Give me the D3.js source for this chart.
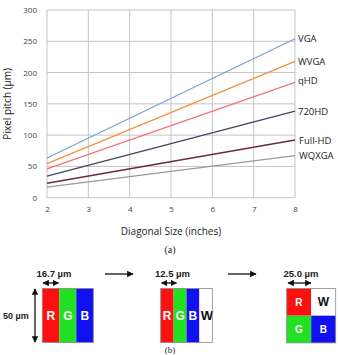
<!DOCTYPE html>
<html><head><meta charset="utf-8">
<script src="https://cdn.jsdelivr.net/npm/d3@7"></script>
<style>
html,body{margin:0;padding:0;background:#fff;}
svg{display:block;}
</style></head>
<body>
<svg id="c" width="341" height="355"></svg>
<script>
// ---- data ----
const sizes = [2, 8];                      // diagonal size (inches)
const seriesNames = ["VGA","WVGA","qHD","720HD","Full-HD","WQXGA"];
const vga    = [63.5, 254];
const wvga   = [54.4, 217.8];
const qhd    = [46.1, 184.5];
const hd720  = [34.6, 138.4];
const fullhd = [23.1, 92.2];
const wqxga  = [16.8, 67.3];
const xTicks = [2,3,4,5,6,7,8];
const yTicks = [0,50,100,150,200,250,300];
const seriesColors = ["#7aa3d6","#f0923e","#f2727a","#44445e","#6e2a3c","#9a9a9a"];
const labelY = [254, 217.8, 188, 137, 92, 67];   // label anchor values

// panel (b) data
const pitchLabels = ["16.7 \u00b5m","12.5 \u00b5m","25.0 \u00b5m"];
const stripeRGB  = ["R","G","B"];
const stripeRGBW = ["R","G","B","W"];
const quadRGBW   = ["R","W","G","B"];

const svg = d3.select("#c");
const M = {l:47, r:295, t:10, b:197.7};
const x = d3.scaleLinear().domain([2,8]).range([M.l, M.r]);
const y = d3.scaleLinear().domain([0,300]).range([M.b, M.t]);
const font = "'Open Sans', sans-serif";

// grid
svg.append("g").selectAll("line.v").data(xTicks).join("line")
  .attr("x1", d=>x(d)).attr("x2", d=>x(d)).attr("y1", M.t).attr("y2", M.b)
  .attr("stroke", "#c4c4c4").attr("stroke-width", 1);
svg.append("g").selectAll("line.h").data(yTicks).join("line")
  .attr("x1", M.l).attr("x2", M.r).attr("y1", d=>y(d)).attr("y2", d=>y(d))
  .attr("stroke", "#c4c4c4").attr("stroke-width", 1);

// axes
const ax = svg.append("g").attr("transform", `translate(0,${M.b})`)
  .call(d3.axisBottom(x).tickValues(xTicks).tickFormat(d3.format("d")).tickSize(0).tickPadding(9));
const ay = svg.append("g").attr("transform", `translate(${M.l},0)`)
  .call(d3.axisLeft(y).tickValues(yTicks).tickFormat(d3.format("d")).tickSize(0).tickPadding(10));
[ax, ay].forEach(g => {
  g.select(".domain").remove();
  g.selectAll("text").attr("font-family", font).attr("font-size", 8).attr("fill", "#444");
});

// lines
const allSeries = [vga, wvga, qhd, hd720, fullhd, wqxga];
const line = d3.line().x((d,i)=>x(sizes[i])).y(d=>y(d));
svg.append("g").selectAll("path").data(allSeries).join("path")
  .attr("d", d=>line(d)).attr("fill","none")
  .attr("stroke", (d,i)=>seriesColors[i]).attr("stroke-width", 1.3);

// series labels
svg.append("g").selectAll("text").data(seriesNames).join("text")
  .attr("x", (d,i)=> x(8) + (i>=4 ? 4 : 3))
  .attr("y", (d,i)=> y(labelY[i]) + 3.5)
  .attr("font-family", font).attr("font-size", 9.5).attr("fill", "#222")
  .text(d=>d);

// axis titles
svg.append("text").attr("x", (M.l+M.r)/2).attr("y", 235).attr("text-anchor","middle")
  .attr("font-family", font).attr("font-size", 10).attr("fill","#222").text("Diagonal Size (inches)");
svg.append("text").attr("transform", `translate(11,${(M.t+M.b)/2}) rotate(-90)`)
  .attr("text-anchor","middle")
  .attr("font-family", font).attr("font-size", 10).attr("fill","#222").text("Pixel pitch (\u00b5m)");

// (a)
svg.append("text").attr("x", 170).attr("y", 253).attr("text-anchor","middle")
  .attr("font-family","'Liberation Serif', serif").attr("font-size", 10).attr("fill","#222").text("(a)");

// ---- panel (b) ----
const colorOf = {R:"#ff1010", G:"#22e022", B:"#1010f0", W:"#ffffff"};
const topY = 288.5, h = 54;
const defs = svg.append("defs");
defs.append("marker").attr("id","ah").attr("viewBox","0 0 10 10").attr("refX",9).attr("refY",5)
  .attr("markerWidth",5).attr("markerHeight",5).attr("orient","auto-start-reverse")
  .append("path").attr("d","M0,0 L10,5 L0,10 Z").attr("fill","#111");

function stripes(x0, w, letters){
  const g = svg.append("g");
  letters.forEach((L,i)=>{
    g.append("rect").attr("x", x0 + i*w).attr("y", topY).attr("width", w).attr("height", h)
      .attr("fill", colorOf[L]);
    g.append("text").attr("x", x0 + i*w + w/2 + (L==="W"?1:0)).attr("y", topY + h/2 + 4.5)
      .attr("text-anchor","middle").attr("font-family","'Liberation Sans', Arial, sans-serif")
      .attr("font-weight","bold").attr("font-size", L==="W"?13:12)
      .attr("fill", L==="W" ? "#111" : "#fff").text(L);
  });
  g.append("rect").attr("x", x0).attr("y", topY).attr("width", w*letters.length).attr("height", h)
    .attr("fill","none").attr("stroke","#888").attr("stroke-width",0.8);
}
function quads(x0, w, hh, letters){
  const g = svg.append("g");
  letters.forEach((L,i)=>{
    const cx = x0 + (i%2)*w, cy = topY + Math.floor(i/2)*hh;
    g.append("rect").attr("x", cx).attr("y", cy).attr("width", w).attr("height", hh).attr("fill", colorOf[L]);
    g.append("text").attr("x", cx + w/2).attr("y", cy + hh/2 + 4)
      .attr("text-anchor","middle").attr("font-family","'Liberation Sans', Arial, sans-serif")
      .attr("font-weight","bold").attr("font-size", L==="W"?12:10)
      .attr("fill", L==="W" ? "#111" : "#fff").text(L);
  });
  g.append("rect").attr("x", x0).attr("y", topY).attr("width", w*2).attr("height", hh*2)
    .attr("fill","none").attr("stroke","#888").attr("stroke-width",0.8);
}
stripes(42.3, 17, stripeRGB);
stripes(160.7, 12.9, stripeRGBW);
quads(286.7, 24.5, 27.2, quadRGBW);

function dbl(x1,y1,x2,y2){
  svg.append("line").attr("x1",x1).attr("y1",y1).attr("x2",x2).attr("y2",y2)
    .attr("stroke","#111").attr("stroke-width",1.3)
    .attr("marker-start","url(#ah)").attr("marker-end","url(#ah)");
}
function arrow(x1,x2,yy){
  svg.append("line").attr("x1",x1).attr("y1",yy).attr("x2",x2).attr("y2",yy)
    .attr("stroke","#111").attr("stroke-width",1.3).attr("marker-end","url(#ah)");
}
const bf = "'Liberation Sans', Arial, sans-serif";
const pitchX = [54, 172.5, 301];
pitchLabels.forEach((t,i)=>{
  svg.append("text").attr("x", pitchX[i]).attr("y", 277).attr("text-anchor","middle")
    .attr("font-family", bf).attr("font-weight","bold").attr("font-size", 9.5).attr("fill","#222").text(t);
});
dbl(43, 283, 58.5, 283);
dbl(161.5, 283, 176.5, 283);
dbl(288, 283, 311, 283);
dbl(35, 289, 35, 342);
svg.append("text").attr("x", 3).attr("y", 318.5)
  .attr("font-family", bf).attr("font-weight","bold").attr("font-size", 9).attr("fill","#222").text("50 \u00b5m");
arrow(105, 133, 274);
arrow(228, 256, 274);
svg.append("text").attr("x", 170).attr("y", 353).attr("text-anchor","middle")
  .attr("font-family","'Liberation Serif', serif").attr("font-size", 9).attr("fill","#222").text("(b)");
</script>
</body></html>
